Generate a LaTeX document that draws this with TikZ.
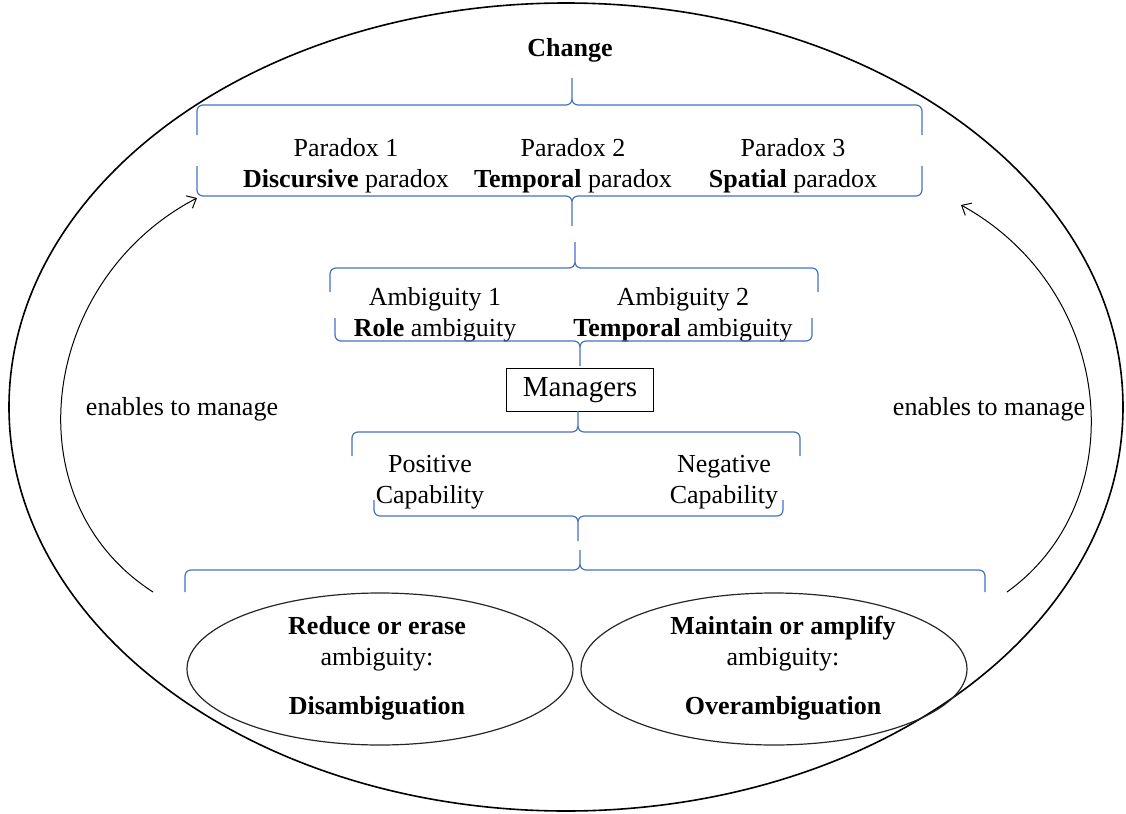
\documentclass[tikz,border=0pt]{standalone}
\usepackage{fontspec}
\setmainfont{Liberation Serif}
\usetikzlibrary{shapes.geometric,arrows.meta,positioning}
\definecolor{braceblue}{RGB}{68,114,196}
\tikzset{txt/.style={align=center,font=\fontsize{13}{15.5}\selectfont,inner sep=0pt},
         curly/.style={draw=braceblue,line width=0.6pt,rounded corners=3pt},
         oval/.style={ellipse,draw=black!85,line width=0.6pt,minimum width=193pt,minimum height=76pt,inner sep=0pt},
         mgr box/.style={rectangle,draw,line width=0.6pt,minimum width=73.5pt,minimum height=21.5pt,inner sep=0pt,font=\fontsize{14.5}{17}\selectfont},
         loop arrow/.style={-{Straight Barb[length=4pt,width=7pt]},line width=0.5pt},
}
% horizontal curly brace: left x, right x, tip x, bar y, end y, tip y
\newcommand{\hbrace}[6]{%
  \draw[curly] (#3,#6) -- (#3,#4) -- (#1,#4) -- (#1,#5)
               (#3,#6) -- (#3,#4) -- (#2,#4) -- (#2,#5);}

\begin{document}
\begin{tikzpicture}[x=0.5pt,y=-0.5pt]
\useasboundingbox (0,0) rectangle (1126,814);
% outer loop
\draw[line width=0.8pt] (566,407) ellipse [x radius=278.5pt, y radius=202pt];

\node[txt,font=\fontsize{13}{15.5}\selectfont\bfseries] (change) at (570,50) {Change};

% paradoxes
\hbrace{197}{922}{572}{105}{135}{78}
\node[txt] (p1) at (346,166) {Paradox 1\\\textbf{Discursive} paradox};
\node[txt] (p2) at (573,166) {Paradox 2\\\textbf{Temporal} paradox};
\node[txt] (p3) at (793,166) {Paradox 3\\\textbf{Spatial} paradox};
\hbrace{197}{922}{572}{196}{166}{226}

% ambiguities
\hbrace{330}{818}{575}{268}{292}{242}
\node[txt] (a1) at (435,315) {Ambiguity 1\\\textbf{Role} ambiguity};
\node[txt] (a2) at (683,315) {Ambiguity 2\\\textbf{Temporal} ambiguity};
\hbrace{335}{812}{580}{341}{318}{366}

\node[mgr box] (mgr) at (580,390) {\raisebox{-1.5pt}{Managers}};

% capabilities
\hbrace{352}{800}{578}{432}{456}{411}
\node[txt] (pos) at (430,482) {Positive\\Capability};
\node[txt] (neg) at (724,482) {Negative\\Capability};
\hbrace{374}{783}{578}{516}{500}{541}

% outcomes
\hbrace{185}{985}{580}{570}{592}{550}
\node[oval] (dis) at (380,669) {};
\node[oval] (over) at (774,669) {};
\node[txt] (dist) at (377,668) {\textbf{Reduce or erase}\\ambiguity:\\[9pt]\textbf{Disambiguation}};
\node[txt] (overt) at (783,668) {\textbf{Maintain or amplify}\\ambiguity:\\[9pt]\textbf{Overambiguation}};

% feedback arrows
\coordinate (l0) at (153,592);
\coordinate (l1) at (197,198);
\coordinate (r0) at (1007,592);
\coordinate (r1) at (961,205);
\draw[loop arrow] (l0) .. controls (10,500) and (40,280) .. (l1);
\draw[loop arrow] (r0) .. controls (1135,500) and (1115,290) .. (r1);
\node[txt] (lm) at (182,409) {enables to manage};
\node[txt] (rm) at (989,409) {enables to manage};
\end{tikzpicture}
\end{document}
